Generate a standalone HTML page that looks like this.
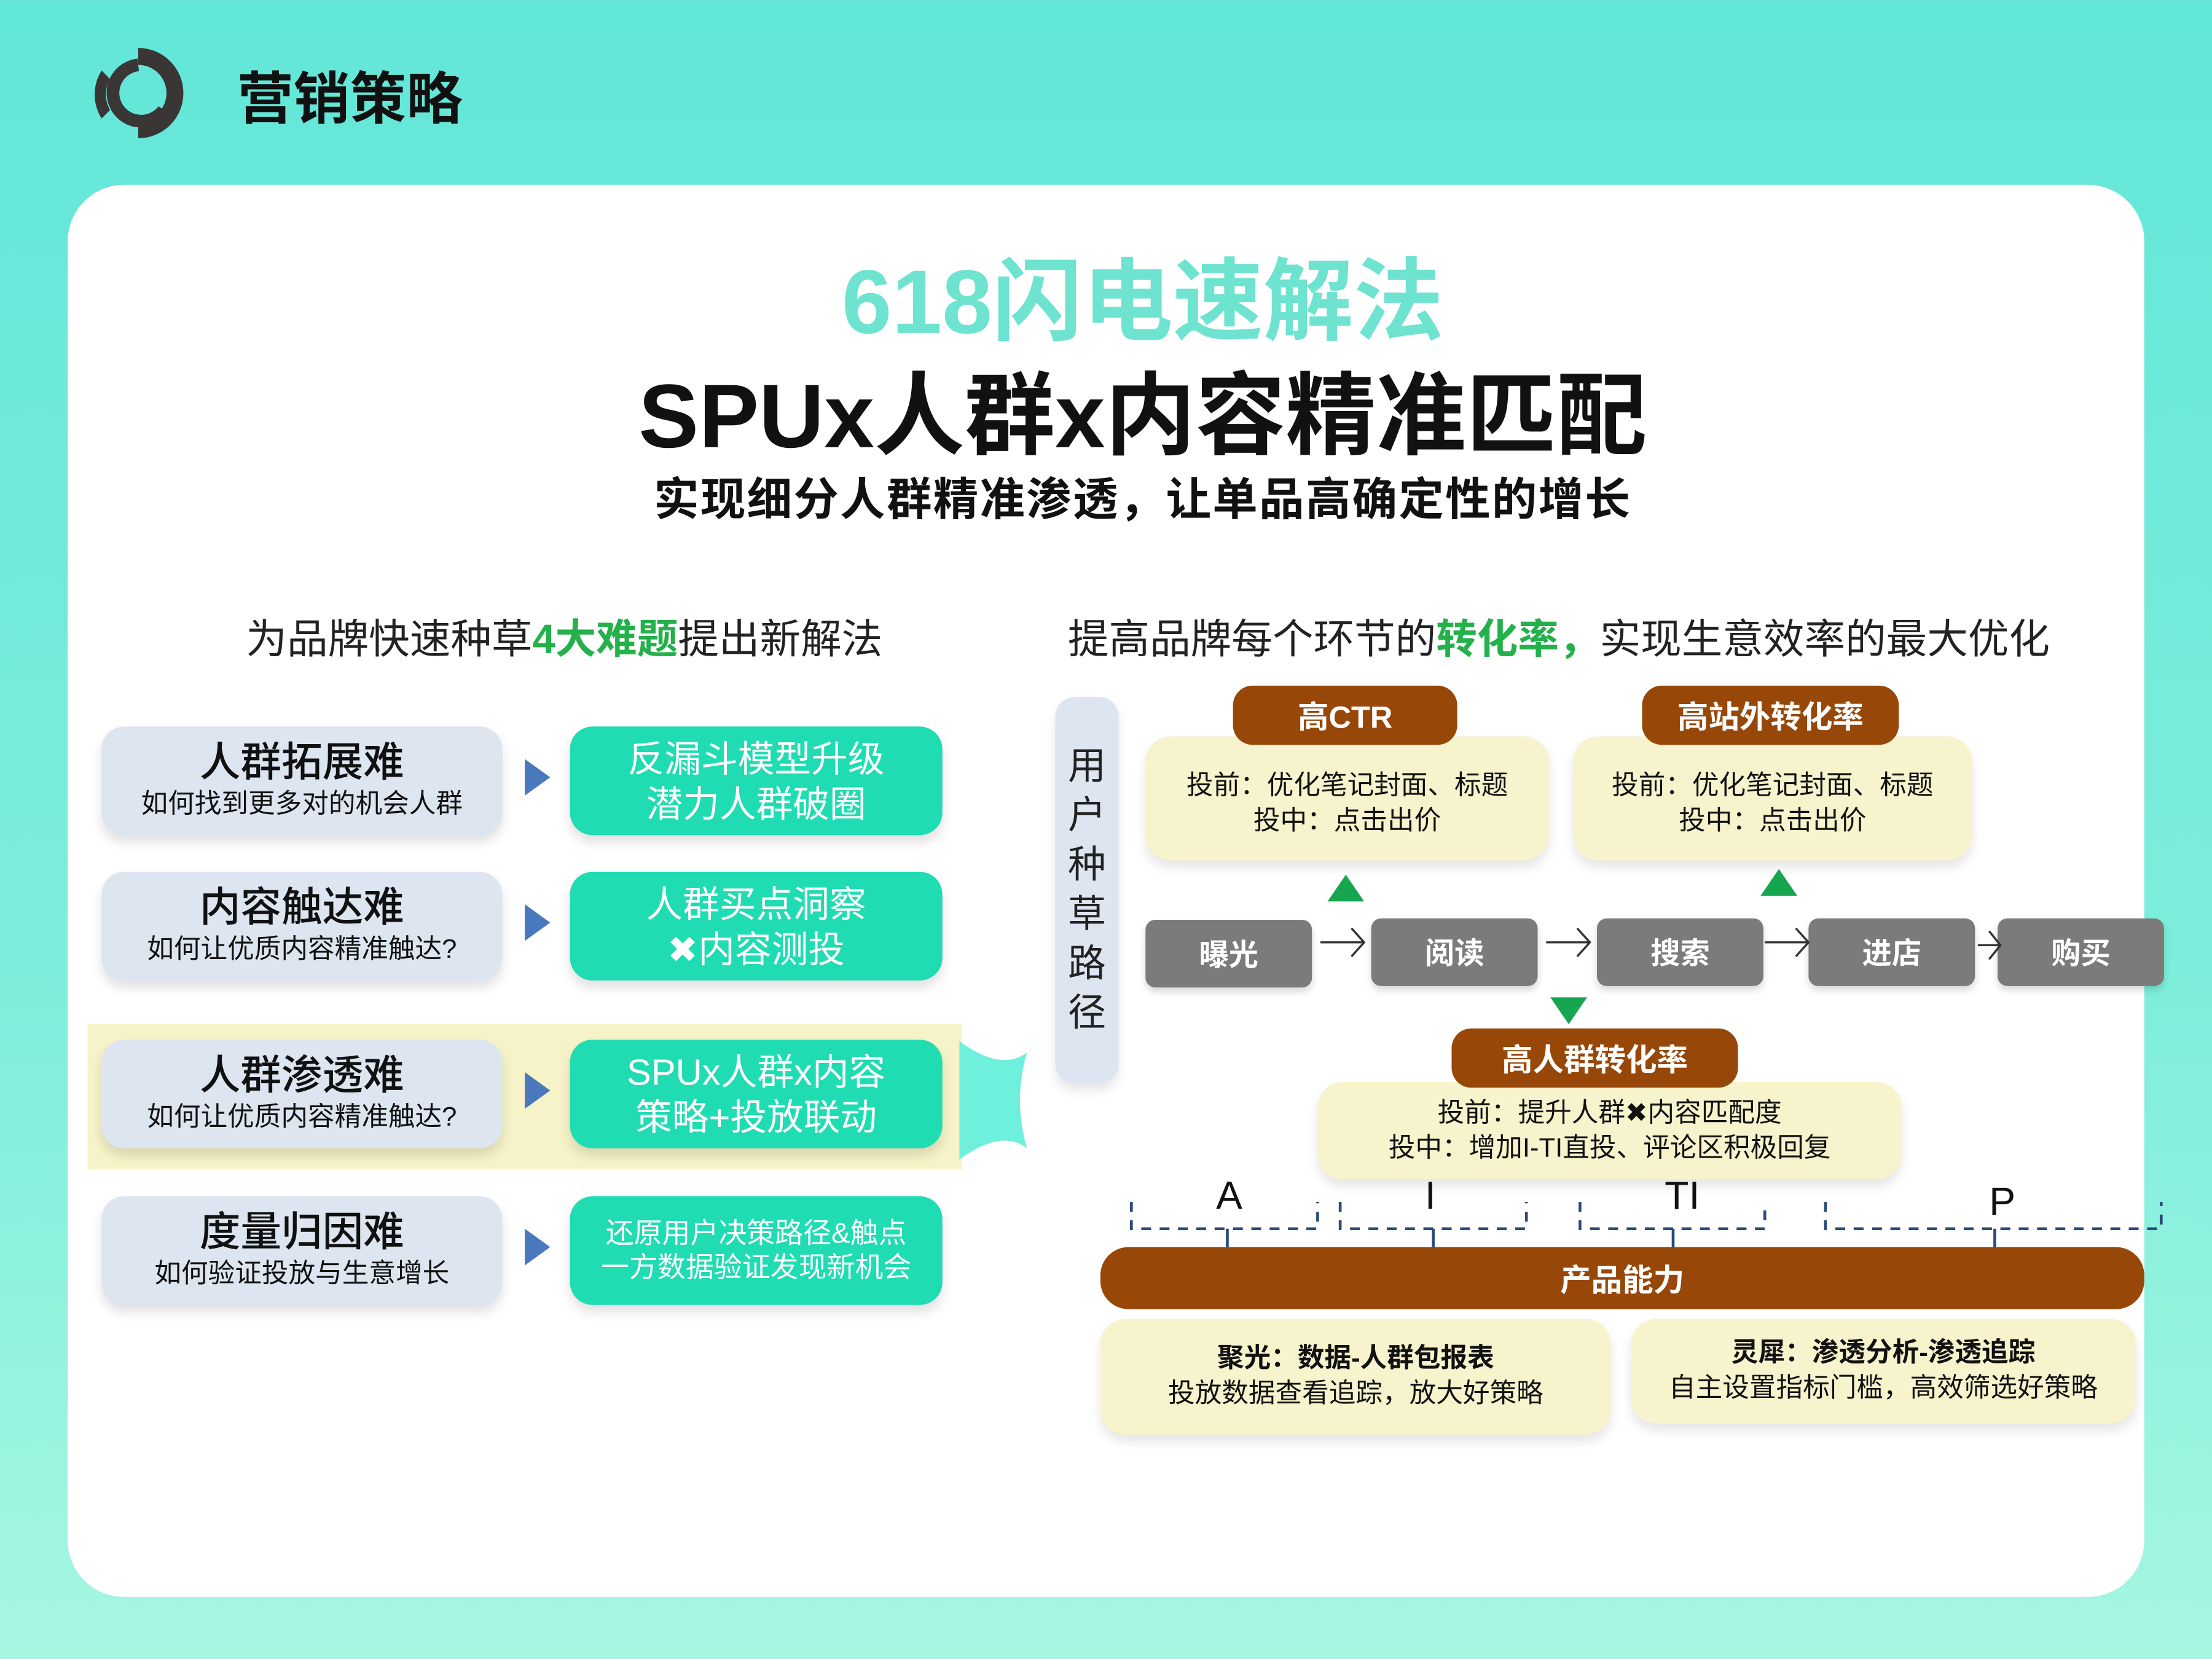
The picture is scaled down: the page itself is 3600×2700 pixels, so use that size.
<!DOCTYPE html>
<html><head><meta charset="utf-8"><style>
*{margin:0;padding:0;box-sizing:border-box}
html,body{width:3600px;height:2700px;overflow:hidden}
body{background:linear-gradient(180deg,#62e6d8 0%,#7eeedb 60%,#a6f6e2 100%);font-family:"Liberation Sans","Noto Sans CJK SC",sans-serif}
#s{position:absolute;left:0;top:0;width:1568px;height:1176px;transform:scale(2.29592);transform-origin:0 0}
.a{position:absolute}
.c{display:flex;flex-direction:column;align-items:center;justify-content:center;text-align:center}
.lb{background:#dde5f1;border-radius:16px;box-shadow:0 5px 8px rgba(0,0,0,.12);color:#111}
.lb b{font-size:29px;font-weight:500;line-height:34px}
.lb span{font-size:19px;line-height:26px}
.tb{background:#1fdcb2;border-radius:16px;box-shadow:0 5px 8px rgba(0,0,0,.12);color:#fff;font-size:26px;line-height:32px}
.tri{width:0;height:0;border-top:13px solid transparent;border-bottom:13px solid transparent;border-left:18px solid #4a78bd}
.br{background:#974809;color:#fff;border-radius:14px;font-size:22px;font-weight:bold}
.yb{background:#f6f3cd;border-radius:18px;box-shadow:0 5px 8px rgba(0,0,0,.1);font-size:19px;line-height:25px;color:#111}
.gb{background:#7b7b7b;color:#fff;border-radius:7px;font-size:21px;font-weight:bold;box-shadow:0 3px 5px rgba(0,0,0,.15)}
</style></head><body><div id="s">
<svg class="a" style="left:62px;top:30px" width="74" height="72" viewBox="0 0 74 72">
<path d="M36 4 A32 32 0 0 1 36 68 L36 56 A20 20 0 0 0 36 16Z" fill="#3a3636"/>
<path d="M36 16 A20 20 0 1 0 54 48" stroke="#3a3636" stroke-width="9" fill="none"/>
<path d="M10 20 A32 32 0 0 0 10 54 L16 48 A22 22 0 0 1 16 26Z" fill="#3a3636"/>
</svg>
<div class="a" style="left:168px;top:38px;font-size:40px;font-weight:bold;color:#111">营销策略</div>
<div class="a" style="left:48px;top:131px;width:1472px;height:1001px;background:#fff;border-radius:40px"></div>
<div class="a c" style="left:0;top:170px;width:1620px;height:78px;font-size:64px;font-weight:bold;color:#6ee3cf">618闪电速解法</div>
<div class="a c" style="left:0;top:252px;width:1620px;height:76px;font-size:64px;font-weight:bold;color:#111">SPUx人群x内容精准匹配</div>
<div class="a c" style="left:0;top:332px;width:1620px;height:40px;font-size:32px;font-weight:bold;color:#111;letter-spacing:1px">实现细分人群精准渗透，让单品高确定性的增长</div>
<div class="a" style="left:100px;top:434px;width:600px;height:40px;line-height:40px;text-align:center;font-size:29px;color:#222">为品牌快速种草<b style="color:#24b04a">4大难题</b>提出新解法</div>
<div class="a" style="left:740px;top:434px;width:730px;height:40px;text-align:center;font-size:29px;color:#222;line-height:40px">提高品牌每个环节的<b style="color:#24b04a">转化率，</b>实现生意效率的最大优化</div>

<div class="a" style="left:62px;top:726px;width:620px;height:103px;background:#f6f3c8"></div>
<svg class="a" style="left:680px;top:738px" width="50" height="84"><path d="M0 0 Q30 22 48 8 Q38 42 48 76 Q30 62 0 84 Z" fill="#6ff0dc"/></svg>

<div class="a c lb" style="left:72px;top:515px;width:284px;height:77px"><b>人群拓展难</b><span>如何找到更多对的机会人群</span></div>
<div class="a c lb" style="left:72px;top:618px;width:284px;height:77px"><b>内容触达难</b><span>如何让优质内容精准触达?</span></div>
<div class="a c lb" style="left:72px;top:737px;width:284px;height:77px"><b>人群渗透难</b><span>如何让优质内容精准触达?</span></div>
<div class="a c lb" style="left:72px;top:848px;width:284px;height:77px"><b>度量归因难</b><span>如何验证投放与生意增长</span></div>
<div class="a tri" style="left:372px;top:538px"></div>
<div class="a tri" style="left:372px;top:641px"></div>
<div class="a tri" style="left:372px;top:760px"></div>
<div class="a tri" style="left:372px;top:871px"></div>
<div class="a c tb" style="left:404px;top:515px;width:264px;height:77px">反漏斗模型升级<br>潜力人群破圈</div>
<div class="a c tb" style="left:404px;top:618px;width:264px;height:77px">人群买点洞察<br>✖内容测投</div>
<div class="a c tb" style="left:404px;top:737px;width:264px;height:77px">SPUx人群x内容<br>策略+投放联动</div>
<div class="a c tb" style="left:404px;top:848px;width:264px;height:77px;font-size:20px;line-height:24px">还原用户决策路径&amp;触点<br>一方数据验证发现新机会</div>

<div class="a c" style="left:748px;top:494px;width:45px;height:274px;background:#dde5f1;border-radius:14px;font-size:27px;line-height:35px;color:#222;box-shadow:0 5px 8px rgba(0,0,0,.1)">用<br>户<br>种<br>草<br>路<br>径</div>

<div class="a c yb" style="left:812px;top:522px;width:286px;height:88px;padding-top:8px">投前：优化笔记封面、标题<br>投中：点击出价</div>
<div class="a c yb" style="left:1115px;top:522px;width:283px;height:88px;padding-top:8px">投前：优化笔记封面、标题<br>投中：点击出价</div>
<div class="a c br" style="left:874px;top:486px;width:159px;height:42px">高CTR</div>
<div class="a c br" style="left:1164px;top:486px;width:182px;height:42px">高站外转化率</div>
<div class="a" style="left:941px;top:620px;width:0;height:0;border-left:13px solid transparent;border-right:13px solid transparent;border-bottom:19px solid #17a650"></div>
<div class="a" style="left:1248px;top:616px;width:0;height:0;border-left:13px solid transparent;border-right:13px solid transparent;border-bottom:19px solid #17a650"></div>

<div class="a c gb" style="left:812px;top:652px;width:118px;height:48px">曝光</div>
<div class="a c gb" style="left:972px;top:651px;width:118px;height:48px">阅读</div>
<div class="a c gb" style="left:1132px;top:651px;width:118px;height:48px">搜索</div>
<div class="a c gb" style="left:1282px;top:651px;width:118px;height:48px">进店</div>
<div class="a c gb" style="left:1416px;top:651px;width:118px;height:48px">购买</div>
<svg class="a" style="left:930px;top:650px" width="500" height="40"><g stroke="#333" stroke-width="1.5" fill="none">
<path d="M6 18H36M28 8L37 18L28 28"/><path d="M166 18H196M188 8L197 18L188 28"/><path d="M321 18H351M343 8L352 18L343 28"/><path d="M472 20H488M480 10L488 20L480 30"/></g></svg>
<div class="a" style="left:1099px;top:707px;width:0;height:0;border-left:13px solid transparent;border-right:13px solid transparent;border-top:19px solid #17a650"></div>

<div class="a c yb" style="left:934px;top:767px;width:414px;height:69px">投前：提升人群✖内容匹配度<br>投中：增加I-TI直投、评论区积极回复</div>
<div class="a c br" style="left:1029px;top:729px;width:203px;height:42px">高人群转化率</div>

<div class="a" style="left:862px;top:832px;font-size:28px;color:#111">A</div>
<div class="a" style="left:1010px;top:832px;font-size:28px;color:#111">I</div>
<div class="a" style="left:1180px;top:832px;font-size:28px;color:#111">TI</div>
<div class="a" style="left:1410px;top:836px;font-size:28px;color:#111">P</div>
<svg class="a" style="left:780px;top:845px" width="760" height="45">
<g stroke="#2a4a7a" stroke-width="2" fill="none" stroke-dasharray="7 6">
<path d="M22 7 V26 H154 V7"/><path d="M170 7 V26 H302 V7"/><path d="M340 7 V26 H471 V7"/><path d="M514 7 V26 H752 V7"/>
</g>
<g stroke="#2a4a7a" stroke-width="2"><path d="M90 26 V40M236 26 V40M406 26 V40M634 26 V40"/></g>
</svg>
<div class="a c br" style="left:780px;top:884px;width:740px;height:44px;border-radius:20px">产品能力</div>
<div class="a c yb" style="left:780px;top:935px;width:362px;height:82px"><b>聚光：数据-人群包报表</b>投放数据查看追踪，放大好策略</div>
<div class="a c yb" style="left:1156px;top:935px;width:358px;height:74px"><b>灵犀：渗透分析-渗透追踪</b>自主设置指标门槛，高效筛选好策略</div>
</div></body></html>
